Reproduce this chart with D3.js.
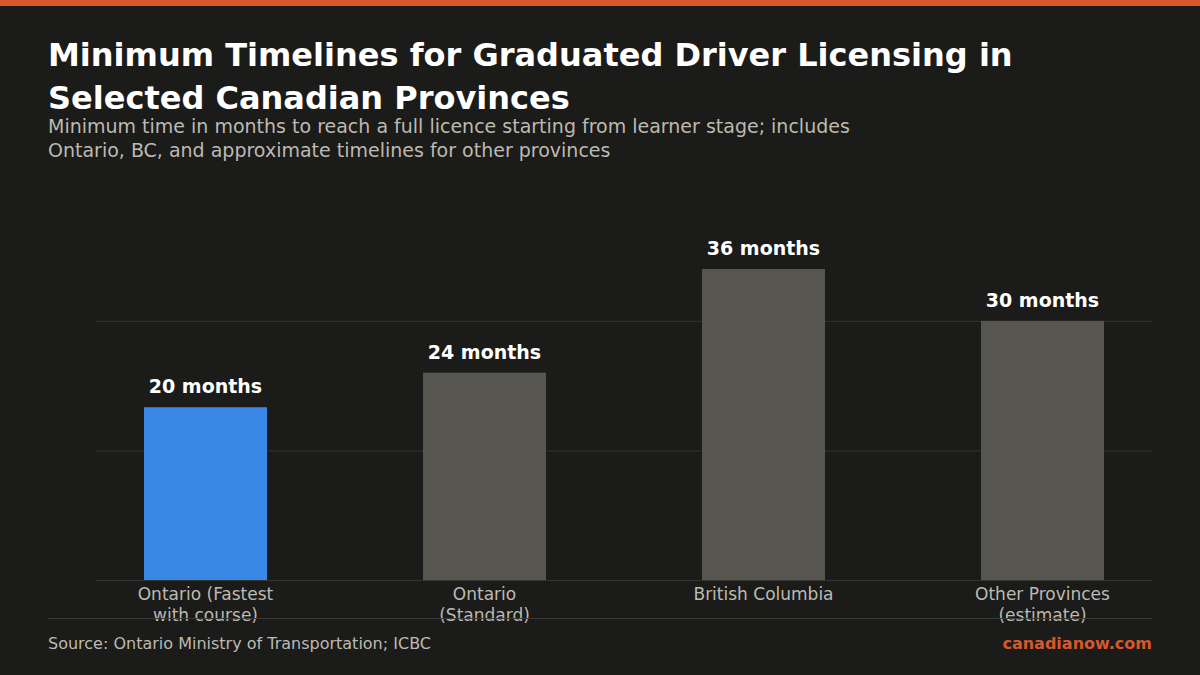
<!DOCTYPE html>
<html>
<head>
<meta charset="utf-8">
<script src="https://cdn.jsdelivr.net/npm/d3@7/dist/d3.min.js"></script>
<style>
  html, body { margin: 0; padding: 0; background: #1b1b19; }
  svg, svg text { font-family: "DejaVu Sans", sans-serif; }
  svg { display: block; }
</style>
</head>
<body>
<div id="chart"></div>
<script>
// chart data
var categories = ["Ontario (Fastest with course)", "Ontario (Standard)", "British Columbia", "Other Provinces (estimate)"];
var months = [20, 24, 36, 30];
var valueLabels = ["20 months", "24 months", "36 months", "30 months"];
var gridTicks = [0, 15, 30];

var width = 1200, height = 675;
var plot = {left: 96, right: 1152, top: 269, bottom: 580};

var svg = d3.select("#chart").append("svg")
  .attr("width", width)
  .attr("height", height);

svg.append("rect")
  .attr("width", width).attr("height", height)
  .attr("fill", "#1b1b19");

// orange strip on top
svg.append("rect")
  .attr("width", width).attr("height", 6)
  .attr("fill", "#d9582b");

// title + subtitle
var title = svg.append("text")
  .attr("x", 48)
  .attr("fill", "#ffffff")
  .style("font-size", "32px")
  .style("font-weight", "bold");
title.append("tspan").attr("x", 48).attr("y", 66).text("Minimum Timelines for Graduated Driver Licensing in");
title.append("tspan").attr("x", 48).attr("y", 109).text("Selected Canadian Provinces");

var sub = svg.append("text")
  .attr("fill", "#bdbab1")
  .style("font-size", "19px");
sub.append("tspan").attr("x", 48).attr("y", 133).text("Minimum time in months to reach a full licence starting from learner stage; includes");
sub.append("tspan").attr("x", 48).attr("y", 157).text("Ontario, BC, and approximate timelines for other provinces");

var x = d3.scaleBand()
  .domain(categories)
  .range([plot.left, plot.right])
  .paddingInner(0.559)
  .paddingOuter(0.172);

var y = d3.scaleLinear()
  .domain([0, 36])
  .range([plot.bottom, plot.top]);

// gridlines
var grid = svg.append("g")
  .attr("class", "grid")
  .call(d3.axisLeft(y).tickValues(gridTicks).tickSize(-(plot.right - plot.left)).tickFormat(""))
  .attr("transform", "translate(" + plot.left + ",0)");
grid.select(".domain").remove();
grid.selectAll("line").attr("stroke", "#333331").attr("stroke-width", 1);

var data = categories.map(function(c, i) {
  return {cat: c, value: months[i], label: valueLabels[i]};
});

svg.selectAll(".bar")
  .data(data)
  .enter().append("rect")
  .attr("class", "bar")
  .attr("x", function(d) { return x(d.cat); })
  .attr("width", x.bandwidth())
  .attr("y", function(d) { return y(d.value); })
  .attr("height", function(d) { return y(0) - y(d.value); })
  .attr("fill", function(d, i) { return i == 0 ? "#3a88e5" : "#56554f"; });

svg.selectAll(".vlabel")
  .data(data)
  .enter().append("text")
  .attr("class", "vlabel")
  .attr("x", function(d) { return x(d.cat) + x.bandwidth() / 2; })
  .attr("y", function(d) { return y(d.value) - 14; })
  .attr("text-anchor", "middle")
  .attr("fill", "#ffffff")
  .style("font-size", "19px")
  .style("font-weight", "bold")
  .text(function(d) { return d.label; });

// category axis
var xAxis = svg.append("g")
  .attr("transform", "translate(0," + plot.bottom + ")")
  .call(d3.axisBottom(x).tickSize(0).tickFormat(""))
  .attr("font-family", null);
xAxis.select(".domain").remove();

function wrapLabel(s, maxChars) {
  var words = s.split(" "), lines = [], cur = "";
  words.forEach(function(w) {
    if (cur && (cur + " " + w).length > maxChars) { lines.push(cur); cur = w; }
    else cur = cur ? cur + " " + w : w;
  });
  if (cur) lines.push(cur);
  return lines;
}

xAxis.selectAll(".tick").each(function(d) {
  var t = d3.select(this).append("text")
    .attr("fill", "#bdbab1")
    .attr("text-anchor", "middle")
    .style("font-family", "'DejaVu Sans', sans-serif")
    .style("font-size", "17px");
  wrapLabel(d, 16).forEach(function(line, i) {
    t.append("tspan").attr("x", 0).attr("y", 20 + i * 21).text(line);
  });
});

// baseline
svg.append("line")
  .attr("x1", plot.left).attr("x2", plot.right)
  .attr("y1", plot.bottom + 0.5).attr("y2", plot.bottom + 0.5)
  .attr("stroke", "#333331");

// footer divider
svg.append("line")
  .attr("x1", 48).attr("x2", 1152)
  .attr("y1", 618.5).attr("y2", 618.5)
  .attr("stroke", "#3a3a37");

svg.append("text")
  .attr("x", 48).attr("y", 649)
  .attr("fill", "#bdbab1")
  .style("font-size", "16px")
  .text("Source: Ontario Ministry of Transportation; ICBC");

svg.append("text")
  .attr("x", 1152).attr("y", 649)
  .attr("text-anchor", "end")
  .attr("fill", "#d9582b")
  .style("font-size", "16px")
  .style("font-weight", "bold")
  .text("canadianow.com");
</script>
</body>
</html>
